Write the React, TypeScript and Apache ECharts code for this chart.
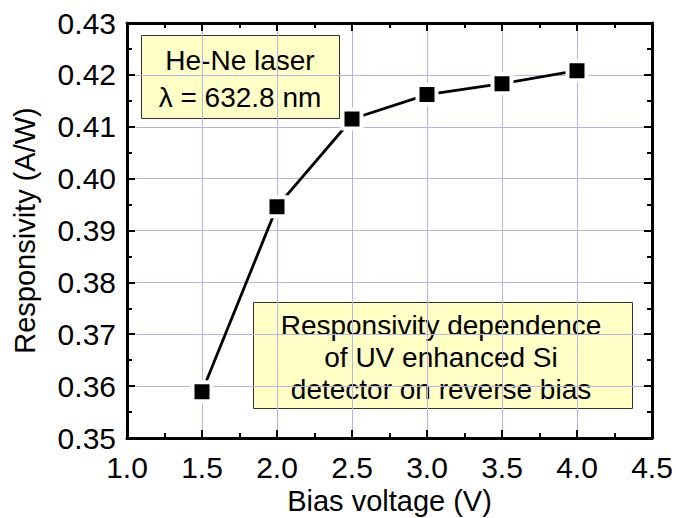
import React, { useEffect, useRef } from "react";
import * as echarts from "echarts";

const biasVoltage = [1.5, 2.0, 2.5, 3.0, 3.5, 4.0];
const responsivity = [0.3589, 0.3946, 0.4115, 0.4162, 0.4183, 0.4208];
const xTitle = "Bias voltage (V)";
const yTitle = "Responsivity (A/W)";
const laserLines = ["He-Ne laser", "λ = 632.8 nm"];
const noteLines = ["Responsivity dependence", "of UV enhanced Si", "detector on reverse bias"];

const FONT = "'Liberation Sans', Arial, sans-serif";
const FS = 28;
const TICK_FS = 30;
const TITLE_FS = 29;

export default function App() {
  const ref = useRef<HTMLDivElement>(null);
  useEffect(() => {
    if (!ref.current) return;
    const chart = echarts.init(ref.current, null, { renderer: "svg" });
    const gridColor = "#b4b4e4";
    const baseAxis = {
      axisLine: { show: true, onZero: false, lineStyle: { color: "#000", width: 3 } },
      axisTick: { show: true, inside: true, length: 8, lineStyle: { color: "#000", width: 2 } },
      minorTick: { show: true, splitNumber: 2, length: 5, lineStyle: { color: "#000", width: 2 } },
    };
    const option: any = {
      animation: false,
      backgroundColor: "#fff",
      textStyle: { fontFamily: FONT },
      grid: {
        left: 127,
        top: 23,
        right: 24,
        bottom: 80,
        containLabel: false,
        outerBoundsMode: "none",
      },
      xAxis: [
        {
          ...baseAxis,
          type: "value",
          position: "bottom",
          min: 1.0,
          max: 4.5,
          interval: 0.5,
          name: xTitle,
          nameLocation: "middle",
          nameGap: 46,
          nameTextStyle: { fontSize: TITLE_FS, color: "#000", fontFamily: FONT },
          axisLabel: {
            fontSize: TICK_FS,
            color: "#000",
            fontFamily: FONT,
            margin: 14,
            formatter: (v: number) => v.toFixed(1),
          },
          splitLine: { show: true, lineStyle: { color: gridColor, width: 1 } },
        },
        {
          ...baseAxis,
          type: "value",
          position: "top",
          min: 1.0,
          max: 4.5,
          interval: 0.5,
          axisLabel: { show: false },
          splitLine: { show: false },
        },
      ],
      yAxis: [
        {
          ...baseAxis,
          type: "value",
          position: "left",
          min: 0.35,
          max: 0.43,
          interval: 0.01,
          name: yTitle,
          nameLocation: "middle",
          nameGap: 88,
          nameTextStyle: { fontSize: TITLE_FS, color: "#000", fontFamily: FONT },
          axisLabel: {
            fontSize: TICK_FS,
            color: "#000",
            fontFamily: FONT,
            margin: 11,
            formatter: (v: number) => v.toFixed(2),
          },
          splitLine: { show: true, lineStyle: { color: gridColor, width: 1 } },
        },
        {
          ...baseAxis,
          type: "value",
          position: "right",
          min: 0.35,
          max: 0.43,
          interval: 0.01,
          axisLabel: { show: false },
          splitLine: { show: false },
        },
      ],
      series: [
        {
          type: "line",
          data: biasVoltage.map((x, i) => [x, responsivity[i]]),
          symbol: "rect",
          symbolSize: 19,
          lineStyle: { color: "#000", width: 2.8 },
          itemStyle: { color: "#000", borderColor: "#fff", borderWidth: 4 },
          z: 5,
        },
      ],
      graphic: [
        {
          type: "group",
          z: 100,
          children: [
            {
              type: "rect",
              shape: { x: 141.5, y: 35.5, width: 198, height: 83 },
              style: { fill: "#ffffc6", stroke: "#333", lineWidth: 1 },
            },
            ...laserLines.map((t, i) => ({
              type: "text",
              x: 240,
              y: 60 + i * 37,
              style: {
                text: t,
                fill: "#000",
                font: `${FS}px ${FONT}`,
                textAlign: "center",
                textVerticalAlign: "middle",
              },
            })),
            {
              type: "rect",
              shape: { x: 253.5, y: 302.5, width: 379, height: 106 },
              style: { fill: "#ffffc6", stroke: "#333", lineWidth: 1 },
            },
            ...noteLines.map((t, i) => ({
              type: "text",
              x: 441,
              y: 325 + i * 32,
              style: {
                text: t,
                fill: "#000",
                font: `${FS}px ${FONT}`,
                textAlign: "center",
                textVerticalAlign: "middle",
              },
            })),
          ],
        },
      ],
    };
    chart.setOption(option);
    return () => chart.dispose();
  }, []);
  return (
    <div
      ref={ref}
      style={{ position: "absolute", left: 0, top: 0, width: 676, height: 518 }}
    />
  );
}
